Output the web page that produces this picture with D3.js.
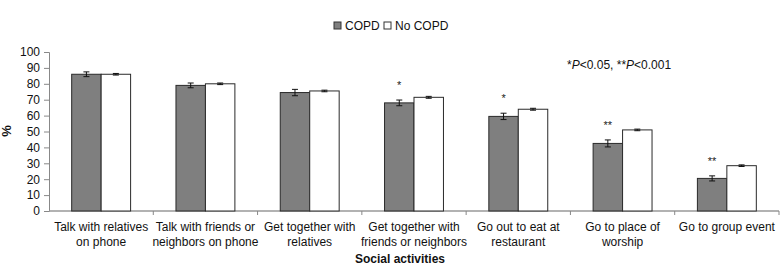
<!DOCTYPE html>
<html>
<head>
<meta charset="utf-8">
<script src="https://cdn.jsdelivr.net/npm/d3@7"></script>
<style>
  body { margin: 0; background: #fff; }
  text { font-family: "Liberation Sans", Arial, sans-serif; }
</style>
</head>
<body>
<script>
// Data
const categories = [
  ["Talk with relatives", "on phone"],
  ["Talk with friends or", "neighbors on phone"],
  ["Get together with", "relatives"],
  ["Get together with", "friends or neighbors"],
  ["Go out to eat at", "restaurant"],
  ["Go to place of", "worship"],
  ["Go to group event"]
];
const copd = [86, 79, 74.5, 68, 59.5, 42.5, 20.5];
const copdErr = [1.5, 1.5, 2, 1.8, 2, 2.2, 1.6];
const noCopd = [86, 80, 75.5, 71.5, 64, 51, 28.5];
const noCopdErr = [0.5, 0.5, 0.5, 0.6, 0.6, 0.5, 0.5];
const stars = ["", "", "", "*", "*", "**", "**"];
const yTicks = [0, 10, 20, 30, 40, 50, 60, 70, 80, 90, 100];
const series = ["COPD", "No COPD"];

// SVG
const svg = d3.select("body").append("svg")
    .attr("width", 780)
    .attr("height", 265);

const margin = { top: 52, right: 1, bottom: 54, left: 49 };
const width = 780 - margin.left - margin.right;
const height = 265 - margin.top - margin.bottom;

const g = svg.append("g").attr("transform", "translate(" + margin.left + "," + margin.top + ")");

const x = d3.scaleBand()
    .domain(d3.range(categories.length))
    .range([0, width])
    .paddingInner(0.435)
    .paddingOuter(0.2175);

const x1 = d3.scaleBand()
    .domain(series)
    .range([0, x.bandwidth()]);

const y = d3.scaleLinear()
    .domain([0, 100])
    .range([height, 0]);

const fill = { "COPD": "#7f7f7f", "No COPD": "#ffffff" };

// Y axis
const yAxis = g.append("g")
    .call(d3.axisLeft(y).tickValues(yTicks).tickSize(5).tickPadding(4));
yAxis.select(".domain").attr("stroke", "#888");
yAxis.selectAll(".tick line").attr("stroke", "#888");
yAxis.selectAll(".tick text").attr("font-size", "12px").attr("fill", "#111")
    .attr("font-family", "Liberation Sans, Arial, sans-serif");

// X axis: ticks between categories
const xLin = d3.scaleLinear().domain([0, categories.length]).range([0, width]);
g.append("line")
    .attr("x1", 0).attr("x2", width)
    .attr("y1", height).attr("y2", height)
    .attr("stroke", "#999").attr("stroke-width", 1.5);
g.selectAll(".xtick")
    .data(d3.range(1, categories.length + 1))
    .join("line")
    .attr("x1", d => xLin(d)).attr("x2", d => xLin(d))
    .attr("y1", height).attr("y2", height + 4)
    .attr("stroke", "#888");

// Bars
const groups = g.selectAll(".grp")
    .data(categories.map((c, i) => i))
    .join("g")
    .attr("transform", i => "translate(" + x(i) + ",0)");

groups.each(function(i) {
  const grp = d3.select(this);
  const vals = [
    { s: "COPD", v: copd[i], e: copdErr[i] },
    { s: "No COPD", v: noCopd[i], e: noCopdErr[i] }
  ];
  grp.selectAll("rect")
    .data(vals)
    .join("rect")
    .attr("x", d => x1(d.s))
    .attr("y", d => y(d.v))
    .attr("width", x1.bandwidth())
    .attr("height", d => height - y(d.v))
    .attr("fill", d => fill[d.s])
    .attr("stroke", "#2a2a2a")
    .attr("stroke-width", 1);

  // error bars
  vals.forEach(d => {
    const cx = x1(d.s) + x1.bandwidth() / 2;
    const eb = grp.append("g").attr("stroke", "#111").attr("stroke-width", 1);
    eb.append("line").attr("x1", cx).attr("x2", cx)
      .attr("y1", y(d.v + d.e)).attr("y2", y(d.v - d.e));
    eb.append("line").attr("x1", cx - 3).attr("x2", cx + 3)
      .attr("y1", y(d.v + d.e)).attr("y2", y(d.v + d.e));
    eb.append("line").attr("x1", cx - 3).attr("x2", cx + 3)
      .attr("y1", y(d.v - d.e)).attr("y2", y(d.v - d.e));
  });

  if (stars[i]) {
    grp.append("text")
      .attr("x", x1("COPD") + x1.bandwidth() / 2)
      .attr("y", y(copd[i] + copdErr[i]) - 11)
      .attr("text-anchor", "middle")
      .attr("font-size", "11px")
      .attr("fill", "#222")
      .text(stars[i]);
  }
});

// X labels
const labels = g.selectAll(".xlab")
    .data(categories)
    .join("text")
    .attr("text-anchor", "middle")
    .attr("font-size", "12px")
    .attr("fill", "#111")
    .attr("transform", (d, i) => "translate(" + (x(i) + x.bandwidth() / 2) + "," + (height + 20) + ")");
labels.selectAll("tspan")
    .data(d => d)
    .join("tspan")
    .attr("x", 0)
    .attr("dy", (d, j) => j === 0 ? 0 : 15)
    .text(d => d);

// Axis titles
svg.append("text")
    .attr("x", 400).attr("y", 263)
    .attr("text-anchor", "middle")
    .attr("font-size", "12px")
    .attr("font-weight", "bold")
    .attr("fill", "#111")
    .text("Social activities");

svg.append("text")
    .attr("transform", "translate(11,131) rotate(-90)")
    .attr("text-anchor", "middle")
    .attr("font-size", "13px")
    .attr("font-weight", "bold")
    .attr("fill", "#111")
    .text("%");

// Legend
const legend = svg.append("g").attr("transform", "translate(334,21)");
const legItems = [
  { s: "COPD", x: 0 },
  { s: "No COPD", x: 50 }
];
legItems.forEach(d => {
  legend.append("rect")
    .attr("x", d.x).attr("y", 1)
    .attr("width", 7).attr("height", 7)
    .attr("fill", fill[d.s])
    .attr("stroke", "#333");
  legend.append("text")
    .attr("x", d.x + 11).attr("y", 9)
    .attr("font-size", "12px")
    .attr("fill", "#111")
    .text(d.s);
});

// Annotation
const ann = svg.append("text")
    .attr("x", 567).attr("y", 69)
    .attr("font-size", "12px")
    .attr("fill", "#111");
ann.append("tspan").text("*");
ann.append("tspan").attr("font-style", "italic").text("P");
ann.append("tspan").text("<0.05, **");
ann.append("tspan").attr("font-style", "italic").text("P");
ann.append("tspan").text("<0.001");
</script>
</body>
</html>
